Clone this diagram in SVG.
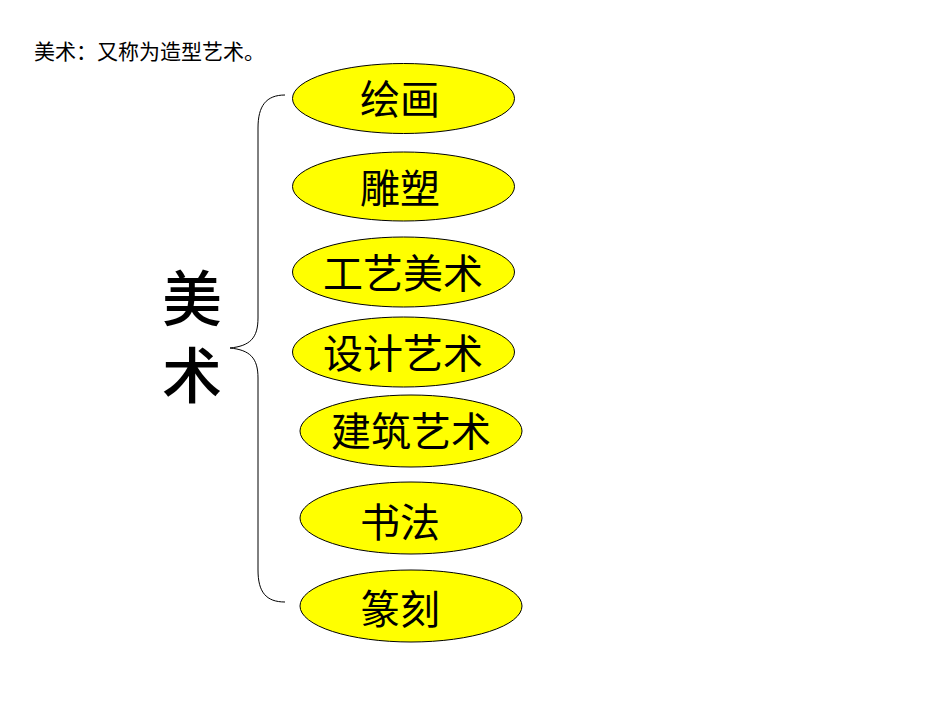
<svg xmlns="http://www.w3.org/2000/svg" width="950" height="713" viewBox="0 0 950 713">
<style>
.n ellipse{fill:#ffff00;stroke:#000;stroke-width:1}
.n text{font-family:"Noto Sans CJK SC","Noto Sans",sans-serif;font-size:40px;fill:#000;text-anchor:middle;dominant-baseline:central}
.t{font-family:"Noto Sans CJK SC",sans-serif;fill:#000}
</style>
<rect width="950" height="713" fill="#fff"/>
<text class="t" x="34" y="59" font-size="21">美术：又称为造型艺术。</text>
<g id="root">
<text class="t" x="192" y="268" font-size="60" writing-mode="vertical-rl" letter-spacing="17" font-weight="500">美术</text>
</g>
<g id="connectors">
<path d="M285,95 C266,95 258,106 258,128 L258,318 C258,338 250,346 230,348 C250,350 258,358 258,378 L258,570 C258,592 266,602 285,602" fill="none" stroke="#000" stroke-width="1"/>
</g>
<g id="n1" class="n"><ellipse cx="403.5" cy="98.5" rx="111" ry="35"/><text x="400" y="97">绘画</text></g>
<g id="n2" class="n"><ellipse cx="403.5" cy="186.5" rx="111" ry="34.5"/><text x="400" y="186">雕塑</text></g>
<g id="n3" class="n"><ellipse cx="403.5" cy="272" rx="111" ry="35"/><text x="403" y="271">工艺美术</text></g>
<g id="n4" class="n"><ellipse cx="403.5" cy="352" rx="111" ry="35"/><text x="403" y="351">设计艺术</text></g>
<g id="n5" class="n"><ellipse cx="411" cy="431" rx="111" ry="36"/><text x="411" y="429">建筑艺术</text></g>
<g id="n6" class="n"><ellipse cx="411" cy="518" rx="111" ry="36"/><text x="400" y="520">书法</text></g>
<g id="n7" class="n"><ellipse cx="411" cy="606" rx="111" ry="36"/><text x="400" y="607">篆刻</text></g>
</svg>
